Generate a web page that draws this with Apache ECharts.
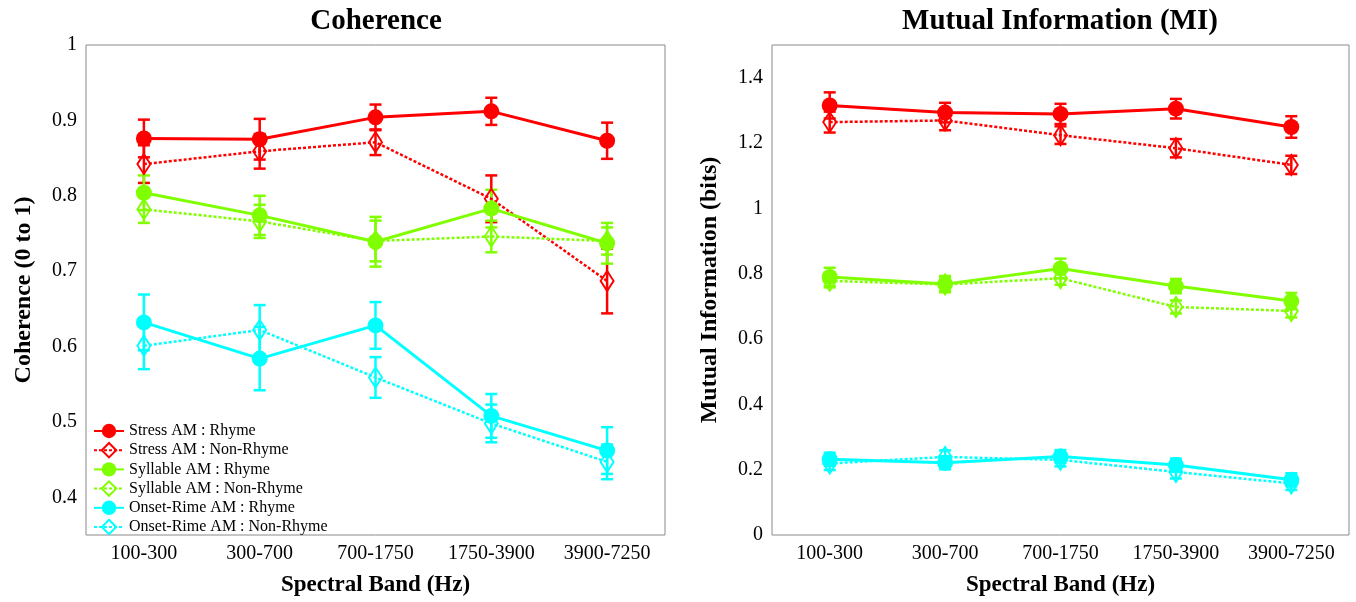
<!DOCTYPE html>
<html>
<head>
<meta charset="utf-8">
<script src="https://cdn.jsdelivr.net/npm/echarts@6/dist/echarts.min.js"></script>
<style>html,body{margin:0;padding:0;background:#fff}#c{width:1356px;height:602px}</style>
</head>
<body>
<div id="c"></div>
<script>
// ---- data ----
const bands = ['100-300', '300-700', '700-1750', '1750-3900', '3900-7250'];
const seriesNames = ['Stress AM : Rhyme', 'Stress AM : Non-Rhyme', 'Syllable AM : Rhyme', 'Syllable AM : Non-Rhyme', 'Onset-Rime AM : Rhyme', 'Onset-Rime AM : Non-Rhyme'];
const seriesColors = ['#ff0000', '#ff0000', '#80ff00', '#80ff00', '#00ffff', '#00ffff'];

// Coherence means and error half-widths
const cohStressR = [0.876, 0.875, 0.904, 0.912, 0.873];
const cohStressRErr = [0.025, 0.027, 0.017, 0.018, 0.024];
const cohStressN = [0.842, 0.859, 0.871, 0.796, 0.687];
const cohStressNErr = [0.025, 0.023, 0.017, 0.031, 0.043];
const cohSyllR = [0.804, 0.774, 0.739, 0.783, 0.737];
const cohSyllRErr = [0.023, 0.026, 0.033, 0.025, 0.027];
const cohSyllN = [0.782, 0.766, 0.740, 0.746, 0.740];
const cohSyllNErr = [0.018, 0.022, 0.027, 0.021, 0.018];
const cohOnsetR = [0.632, 0.584, 0.628, 0.508, 0.462];
const cohOnsetRErr = [0.037, 0.042, 0.031, 0.029, 0.031];
const cohOnsetN = [0.601, 0.622, 0.559, 0.498, 0.447];
const cohOnsetNErr = [0.031, 0.033, 0.027, 0.025, 0.023];

// Mutual information means and error half-widths
const miStressR = [1.315, 1.293, 1.289, 1.305, 1.249];
const miStressRErr = [0.040, 0.030, 0.031, 0.030, 0.033];
const miStressN = [1.264, 1.269, 1.224, 1.184, 1.133];
const miStressNErr = [0.032, 0.030, 0.027, 0.028, 0.028];
const miSyllR = [0.790, 0.768, 0.816, 0.762, 0.716];
const miSyllRErr = [0.028, 0.025, 0.030, 0.022, 0.025];
const miSyllN = [0.778, 0.767, 0.786, 0.698, 0.686];
const miSyllNErr = [0.020, 0.020, 0.020, 0.020, 0.020];
const miOnsetR = [0.232, 0.221, 0.240, 0.214, 0.169];
const miOnsetRErr = [0.020, 0.020, 0.020, 0.020, 0.020];
const miOnsetN = [0.219, 0.239, 0.230, 0.193, 0.158];
const miOnsetNErr = [0.020, 0.020, 0.020, 0.020, 0.020];

const cohTicks = [0.4, 0.5, 0.6, 0.7, 0.8, 0.9, 1];
const miTicks = [0, 0.2, 0.4, 0.6, 0.8, 1, 1.2, 1.4];

// ---- build ----
const FONT = 'Liberation Serif';
const BOX = '#8a8a8a';
const cohMeans = [cohStressR, cohStressN, cohSyllR, cohSyllN, cohOnsetR, cohOnsetN];
const cohErrs = [cohStressRErr, cohStressNErr, cohSyllRErr, cohSyllNErr, cohOnsetRErr, cohOnsetNErr];
const miMeans = [miStressR, miStressN, miSyllR, miSyllN, miOnsetR, miOnsetN];
const miErrs = [miStressRErr, miStressNErr, miSyllRErr, miSyllNErr, miOnsetRErr, miOnsetNErr];

function lineSeries(k, means, axisIdx) {
  const hollow = (k % 2) === 1;
  const col = seriesColors[k];
  return {
    type: 'line', name: seriesNames[k], xAxisIndex: axisIdx, yAxisIndex: axisIdx,
    data: means, symbol: hollow ? 'diamond' : 'circle',
    symbolSize: hollow ? [13, 20] : 16,
    lineStyle: { color: col, width: hollow ? 2.5 : 3, type: hollow ? [3, 2] : 'solid' },
    itemStyle: hollow ? { color: 'rgba(255,255,255,0)', borderColor: col, borderWidth: 2 } : { color: col, borderColor: col, borderWidth: 0 },
    z: 3, emphasis: { disabled: true }, silent: true
  };
}
function errSeries(k, means, errs, axisIdx) {
  const col = seriesColors[k];
  return {
    type: 'custom', name: 'err' + axisIdx + '_' + k, xAxisIndex: axisIdx, yAxisIndex: axisIdx,
    data: means.map((m, i) => [i, m, errs[i]]),
    encode: { x: 0, y: 1 }, z: 2, silent: true,
    renderItem: function (params, api) {
      const x = api.value(0), m = api.value(1), e = api.value(2);
      const t = api.coord([x, m + e]);
      const b = api.coord([x, m - e]);
      const hw = 6;
      const st = { stroke: col, lineWidth: 2.5 };
      return { type: 'group', children: [
        { type: 'line', shape: { x1: t[0], y1: t[1], x2: b[0], y2: b[1] }, style: st },
        { type: 'line', shape: { x1: t[0] - hw, y1: t[1], x2: t[0] + hw, y2: t[1] }, style: st },
        { type: 'line', shape: { x1: b[0] - hw, y1: b[1], x2: b[0] + hw, y2: b[1] }, style: st }
      ] };
    }
  };
}

const grids = [
  { left: 86, top: 45, width: 579, height: 495 },
  { left: 772, top: 45, width: 577, height: 496 }
];
const yCfg = [
  { min: 0.35, max: 1, ticks: cohTicks, name: 'Coherence (0 to 1)' },
  { min: 0, max: 1.5, ticks: miTicks, name: 'Mutual Information (bits)' }
];

const xAxes = [], yAxes = [];
grids.forEach((g, i) => {
  xAxes.push({
    type: 'category', gridIndex: i, data: bands, position: 'bottom',
    name: 'Spectral Band (Hz)', nameLocation: 'middle', nameGap: 39,
    nameTextStyle: { fontFamily: FONT, fontWeight: 'bold', fontSize: 23, color: '#000' },
    axisLine: { show: false },
    axisTick: { inside: true, alignWithLabel: true, length: 6, lineStyle: { color: BOX } },
    axisLabel: { fontFamily: FONT, fontSize: 20, color: '#000', margin: 9 },
    splitLine: { show: false }
  });
});
grids.forEach((g, i) => {
  xAxes.push({
    type: 'category', gridIndex: i, data: bands, position: 'top',
    axisLine: { show: false },
    axisTick: { inside: true, alignWithLabel: true, length: 6, lineStyle: { color: BOX } },
    axisLabel: { show: false }, splitLine: { show: false }
  });
});
grids.forEach((g, i) => {
  const c = yCfg[i];
  yAxes.push({
    type: 'value', gridIndex: i, min: c.min, max: c.max, position: 'left',
    name: c.name, nameLocation: 'middle', nameGap: 50,
    nameTextStyle: { fontFamily: FONT, fontWeight: 'bold', fontSize: 24, color: '#000' },
    axisLine: { show: false },
    axisTick: { inside: true, length: 6, lineStyle: { color: BOX }, customValues: c.ticks },
    axisLabel: { fontFamily: FONT, fontSize: 20, color: '#000', margin: 9, customValues: c.ticks },
    splitLine: { show: false }
  });
});
grids.forEach((g, i) => {
  const c = yCfg[i];
  yAxes.push({
    type: 'value', gridIndex: i, min: c.min, max: c.max, position: 'right',
    axisLine: { show: false },
    axisTick: { inside: true, length: 6, lineStyle: { color: BOX }, customValues: c.ticks },
    axisLabel: { show: false, customValues: c.ticks },
    splitLine: { show: false }
  });
});

const series = [];
for (let k = 0; k < 6; k++) {
  series.push(errSeries(k, cohMeans[k], cohErrs[k], 0));
  series.push(lineSeries(k, cohMeans[k], 0));
  series.push(errSeries(k, miMeans[k], miErrs[k], 1));
  series.push(lineSeries(k, miMeans[k], 1));
}

const option = {
  backgroundColor: '#fff',
  animation: false,
  title: [
    { text: 'Coherence', left: 376, top: 7, textAlign: 'center', padding: 0,
      textStyle: { fontFamily: FONT, fontWeight: 'bold', fontSize: 29, color: '#000' } },
    { text: 'Mutual Information (MI)', left: 1060, top: 7, textAlign: 'center', padding: 0,
      textStyle: { fontFamily: FONT, fontWeight: 'bold', fontSize: 29, color: '#000' } }
  ],
  legend: {
    data: seriesNames, orient: 'vertical', left: 93, top: 422, padding: 0,
    itemWidth: 30, itemHeight: 18, itemGap: 1.2, selectedMode: false,
    textStyle: { fontFamily: FONT, fontSize: 16, color: '#000', lineHeight: 18 }
  },
  grid: grids.map(g => Object.assign({ show: true, borderColor: BOX, borderWidth: 1, backgroundColor: '#fff' }, g)),
  xAxis: xAxes,
  yAxis: yAxes,
  series: series
};
const chart = echarts.init(document.getElementById('c'), null, { renderer: 'canvas' });
chart.setOption(option);
</script>
</body>
</html>
